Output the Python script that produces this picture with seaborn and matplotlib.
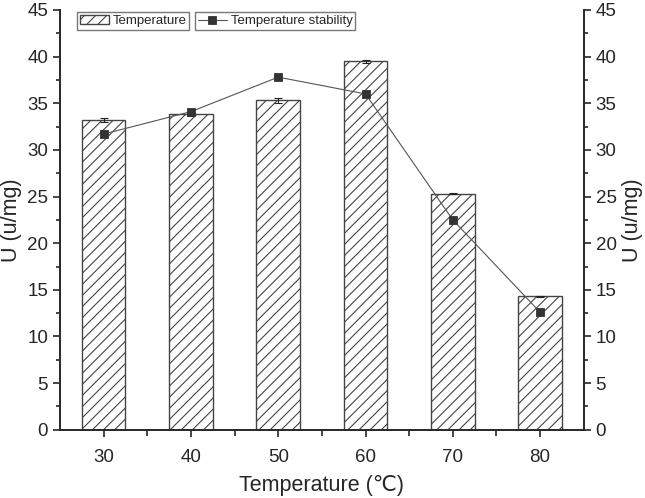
import pandas as pd
import numpy as np
import seaborn as sns
import matplotlib
matplotlib.use('Agg')
import matplotlib.pyplot as plt

temps = ['30', '40', '50', '60', '70', '80']
activity = [33.2, 33.8, 35.3, 39.5, 25.3, 14.3]
activity_err = [0.25, 0.15, 0.25, 0.15, 0.08, 0.08]
stability = [31.7, 34.1, 37.8, 36.0, 22.5, 12.6]

df = pd.DataFrame({'temp': temps, 'activity': activity, 'stability': stability})

sns.set_style('ticks')
plt.rcParams['font.family'] = ['Liberation Sans', 'DejaVu Sans']
plt.rcParams['hatch.color'] = '#444444'
plt.rcParams['hatch.linewidth'] = 0.8

fig = plt.figure(figsize=(6.45, 4.98), dpi=100)
ax = fig.add_axes([0.093, 0.137, 0.812, 0.843])

# bars: activity at each temperature
sns.barplot(data=df, x='temp', y='activity', ax=ax, color='white', width=0.5,
            edgecolor='#444444', linewidth=1.0, hatch='///', errorbar=None,
            label='Temperature')
ax.errorbar(np.arange(len(temps)), activity, yerr=activity_err, fmt='none',
            ecolor='#222222', elinewidth=0.8, capsize=3, capthick=0.8)

# line: stability on the right axis
ax2 = ax.twinx()
sns.pointplot(data=df, x='temp', y='stability', ax=ax2, color='#333333',
              markers='s', markersize=6, linewidth=0.8, label='Temperature stability')
for l in ax2.lines:
    l.set_color('#555555')
    l.set_markerfacecolor('#333333')
    l.set_markeredgecolor('#333333')

for a in (ax, ax2):
    a.set_ylim(0, 45)
    a.set_yticks(np.arange(0, 46, 5))
    a.set_xlim(-0.5, 5.5)
    a.spines['top'].set_visible(False)
    a.tick_params(axis='both', direction='out', length=5, width=1.2, labelsize=13.5)
    a.tick_params(which='minor', direction='out', length=3, width=1.2)
    a.set_yticks(np.arange(2.5, 45, 5), minor=True)
    for s in a.spines.values():
        s.set_linewidth(1.2)
ax2.spines['right'].set_visible(True)
ax.spines['right'].set_visible(True)
ax.set_xticks(np.arange(0.5, 5.5, 1), minor=True)
ax.tick_params(axis='x', which='minor', length=4)
ax.tick_params(axis='x', which='major', pad=9)

ax.set_xlabel('Temperature (℃)', fontsize=15.5, labelpad=6)
ax.set_ylabel('U (u/mg)', fontsize=15.5)
ax2.set_ylabel('U (u/mg)', fontsize=15.5)
ax2.set_xlabel('')

leg1 = ax.legend(loc='upper left', bbox_to_anchor=(0.02, 1.01), fontsize=9.5,
                 frameon=True, fancybox=False, edgecolor='#555555',
                 borderpad=0.2, handlelength=2.2, handletextpad=0.3)
leg2 = ax2.legend(loc='upper left', bbox_to_anchor=(0.245, 1.01), fontsize=9.5,
                  frameon=True, fancybox=False, edgecolor='#555555',
                  borderpad=0.2, handlelength=2.2, handletextpad=0.3)

plt.savefig('out.png', dpi=100)
